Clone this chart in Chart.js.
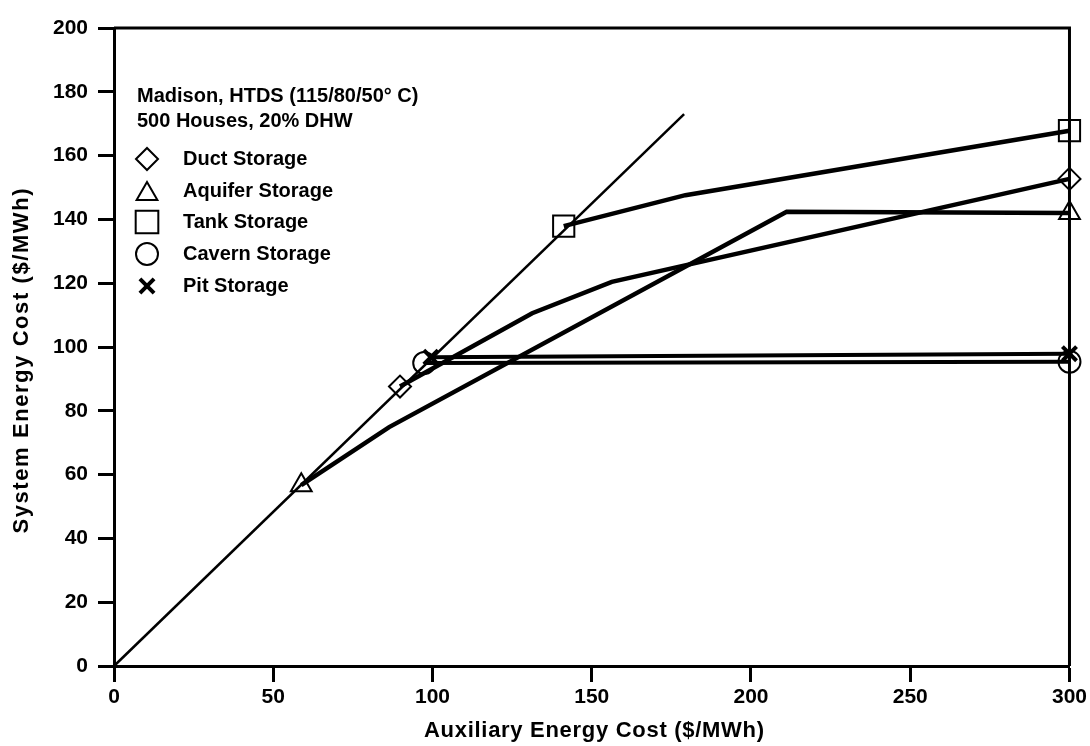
<!DOCTYPE html>
<html>
<head>
<meta charset="utf-8">
<script src="https://cdn.jsdelivr.net/npm/chart.js@4/dist/chart.umd.min.js"></script>
<style>
  body { margin: 0; background: #fff; }
  canvas { display: block; }
</style>
</head>
<body>
<canvas id="costChart" width="1090" height="746"></canvas>
<script>
// values
const diagX = [0, 179];
const diagY = [0, 173];

const ductX = [89.8, 131.3, 156.3, 300];
const ductY = [87.6, 110.6, 120.4, 152.7];

const aquiferX = [58.8, 86.4, 211.2, 300];
const aquiferY = [56.7, 74.9, 142.4, 142];

const tankX = [141.2, 179.4, 300];
const tankY = [137.9, 147.6, 167.8];

const cavernX = [97.4, 300];
const cavernY = [95, 95.4];

const pitX = [99.5, 300];
const pitY = [96.8, 97.9];

const xTicks = [0, 50, 100, 150, 200, 250, 300];
const yTicks = [0, 20, 40, 60, 80, 100, 120, 140, 160, 180, 200];

const xTitle = 'Auxiliary Energy Cost ($/MWh)';
const yTitle = 'System Energy Cost ($/MWh)';
const headerLines = ['Madison, HTDS (115/80/50\u00b0 C)', '500 Houses, 20% DHW'];
const seriesNames = ['Duct Storage', 'Aquifer Storage', 'Tank Storage', 'Cavern Storage', 'Pit Storage'];

const FONT = '"Liberation Sans", Arial, Helvetica, sans-serif';

function pts(xs, ys) {
    return xs.map((x, i) => ({ x: x, y: ys[i] }));
}

// marker only on first and last point
function endRadius(r) {
    return (ctx) => {
        const n = ctx.dataset.data.length;
        return (ctx.dataIndex === 0 || ctx.dataIndex === n - 1) ? r : 0;
    };
}

const markers = [
    { style: 'rectRot', radius: 11, border: 2 },
    { style: 'triangle', radius: 12, border: 2 },
    { style: 'rect', radius: 15, border: 2 },
    { style: 'circle', radius: 11, border: 2 },
    { style: 'crossRot', radius: 10, border: 4 }
];

function series(label, xs, ys, m, width) {
    return {
        label: label,
        data: pts(xs, ys),
        showLine: true,
        borderColor: '#000',
        borderWidth: width,
        pointStyle: m.style,
        pointRadius: endRadius(m.radius),
        pointBorderWidth: m.border,
        pointBorderColor: '#000',
        pointBackgroundColor: 'rgba(0,0,0,0)',
        clip: false
    };
}

// text spread a little to a given length, like the old typeset labels
function spacedText(ctx, text, cx, cy, target) {
    const w = ctx.measureText(text).width;
    const sp = Math.max(0, (target - w) / (text.length - 1));
    if ('letterSpacing' in ctx) {
        ctx.letterSpacing = sp + 'px';
        ctx.fillText(text, cx + sp / 2, cy);
        ctx.letterSpacing = '0px';
    } else {
        ctx.fillText(text, cx, cy);
    }
}

// frame on top and right, plus the axis titles
const framePlugin = {
    id: 'frame',
    afterDraw(chart) {
        const { ctx, chartArea: a } = chart;
        ctx.save();
        ctx.strokeStyle = '#000';
        ctx.lineWidth = 3;
        ctx.beginPath();
        ctx.moveTo(a.left, a.top);
        ctx.lineTo(a.right, a.top);
        ctx.lineTo(a.right, a.bottom);
        ctx.stroke();

        ctx.fillStyle = '#000';
        ctx.font = 'bold 22px ' + FONT;
        ctx.textAlign = 'center';
        ctx.textBaseline = 'middle';
        spacedText(ctx, xTitle, 594, 731, 340);

        ctx.translate(22, 361);
        ctx.rotate(-Math.PI / 2);
        spacedText(ctx, yTitle, 0, 0, 345);
        ctx.restore();
    }
};

// legend block drawn inside the plot
const legendPlugin = {
    id: 'insideLegend',
    afterDatasetsDraw(chart) {
        const ctx = chart.ctx;
        ctx.save();
        ctx.fillStyle = '#000';
        ctx.font = 'bold 20px ' + FONT;
        ctx.textBaseline = 'middle';
        ctx.textAlign = 'left';
        ctx.fillText(headerLines[0], 137, 96);
        ctx.fillText(headerLines[1], 137, 121);

        const rows = [159, 191, 222, 254, 286];
        seriesNames.forEach((name, i) => {
            const m = markers[i];
            ctx.fillStyle = '#000';
            ctx.fillText(name, 183, rows[i]);
            ctx.strokeStyle = '#000';
            ctx.fillStyle = 'rgba(0,0,0,0)';
            ctx.lineWidth = m.border;
            Chart.helpers.drawPoint(ctx, {
                pointStyle: m.style,
                radius: m.style === 'rect' ? 16 : m.radius,
                rotation: 0,
                borderWidth: m.border
            }, 147, rows[i] + (m.style === 'triangle' ? 3 : 0));
        });
        ctx.restore();
    }
};

const tickFont = { family: FONT, size: 21, weight: 'bold' };

new Chart(document.getElementById('costChart'), {
    type: 'scatter',
    data: {
        datasets: [
            {
                label: 'diagonal',
                data: pts(diagX, diagY),
                showLine: true,
                borderColor: '#000',
                borderWidth: 2.5,
                pointRadius: 0,
                clip: false
            },
            series(seriesNames[0], ductX, ductY, markers[0], 4.5),
            series(seriesNames[1], aquiferX, aquiferY, markers[1], 4.5),
            series(seriesNames[2], tankX, tankY, markers[2], 4.5),
            series(seriesNames[3], cavernX, cavernY, markers[3], 4),
            series(seriesNames[4], pitX, pitY, markers[4], 4)
        ]
    },
    options: {
        responsive: false,
        animation: false,
        devicePixelRatio: 1,
        layout: { padding: { left: 0, top: 28, right: 18, bottom: 0 } },
        plugins: {
            legend: { display: false },
            tooltip: { enabled: false }
        },
        scales: {
            x: {
                type: 'linear',
                min: 0,
                max: 300,
                afterBuildTicks: (s) => { s.ticks = xTicks.map(v => ({ value: v })); },
                afterFit: (s) => { s.height = 80; },
                ticks: { font: tickFont, color: '#000', padding: 3 },
                grid: { drawOnChartArea: false, tickLength: 16, tickWidth: 3, tickColor: '#000' },
                border: { color: '#000', width: 3 }
            },
            y: {
                type: 'linear',
                min: 0,
                max: 200,
                afterBuildTicks: (s) => { s.ticks = yTicks.map(v => ({ value: v })); },
                afterFit: (s) => { s.width = 114; },
                ticks: { font: tickFont, color: '#000', padding: 10 },
                grid: { drawOnChartArea: false, tickLength: 16, tickWidth: 3, tickColor: '#000' },
                border: { color: '#000', width: 3 }
            }
        }
    },
    plugins: [framePlugin, legendPlugin]
});
</script>
</body>
</html>
